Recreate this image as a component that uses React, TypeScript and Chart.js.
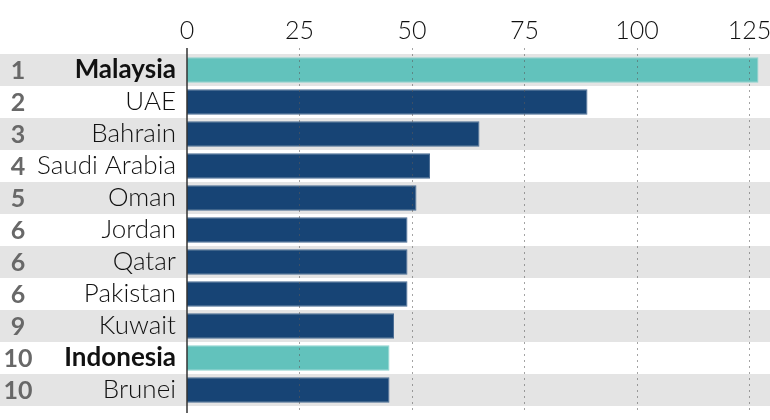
import React, { useEffect, useRef } from "react";
import { Chart, registerables } from "chart.js";

Chart.register(...registerables);

const ranks = ["1", "2", "3", "4", "5", "6", "6", "6", "9", "10", "10"];
const countries = ["Malaysia", "UAE", "Bahrain", "Saudi Arabia", "Oman", "Jordan", "Qatar", "Pakistan", "Kuwait", "Indonesia", "Brunei"];
const values = [127, 89, 65, 54, 51, 49, 49, 49, 46, 45, 45];
const highlighted = [true, false, false, false, false, false, false, false, false, true, false];
const xTicks = [0, 25, 50, 75, 100, 125];

const TEAL = "#62c2bc";
const NAVY = "#174475";
const FONT = "Lato, 'Open Sans', sans-serif";

const decorPlugin = {
  id: "decor",
  beforeDraw(chart: any) {
    const { ctx, scales } = chart;
    const y = scales.y;
    const w = chart.width;
    ctx.save();
    ctx.fillStyle = "#e4e4e4";
    countries.forEach((_, i) => {
      if (i % 2 === 0) {
        const c = y.getPixelForValue(i);
        ctx.fillRect(0, c - 16, w, 32);
      }
    });
    ctx.restore();
  },
  afterDatasetsDraw(chart: any) {
    const { ctx, chartArea, scales } = chart;
    const x = scales.x;
    const y = scales.y;
    ctx.save();
    ctx.strokeStyle = "rgba(90,90,90,0.55)";
    ctx.lineWidth = 1;
    ctx.setLineDash([2, 4]);
    xTicks.forEach((v) => {
      if (v === 0) return;
      const px = Math.round(x.getPixelForValue(v)) + 0.5;
      ctx.beginPath();
      ctx.moveTo(px, chartArea.top - 6);
      ctx.lineTo(px, chartArea.bottom + 6);
      ctx.stroke();
    });
    ctx.setLineDash([]);
    ctx.strokeStyle = "#333";
    ctx.lineWidth = 1.5;
    const zx = x.getPixelForValue(0);
    ctx.beginPath();
    ctx.moveTo(zx, chartArea.top - 6);
    ctx.lineTo(zx, chartArea.bottom + 7);
    ctx.stroke();
    // rank numbers
    ctx.fillStyle = "#686868";
    ctx.font = `bold 25px ${FONT}`;
    ctx.textAlign = "center";
    ctx.textBaseline = "middle";
    ranks.forEach((r, i) => {
      ctx.fillText(r, 18, y.getPixelForValue(i) + 1);
    });
    ctx.restore();
  },
};

export default function App() {
  const ref = useRef<HTMLCanvasElement>(null);
  useEffect(() => {
    if (!ref.current) return;
    const chart = new Chart(ref.current, {
      type: "bar",
      data: {
        labels: countries,
        datasets: [
          {
            data: values,
            backgroundColor: highlighted.map((h) => (h ? TEAL : NAVY)),
            borderColor: highlighted.map((h) => (h ? "#8fd3ce" : "#4a6c93")),
            borderWidth: 1,
            barPercentage: 0.8,
            categoryPercentage: 1,
          },
        ],
      },
      options: {
        indexAxis: "y",
        animation: false,
        responsive: false,
        maintainAspectRatio: false,
        layout: { padding: { left: 0, right: 0, top: 0, bottom: 14 } },
        plugins: { legend: { display: false }, tooltip: { enabled: false } },
        scales: {
          x: {
            position: "top",
            min: 0,
            max: 129.56,
            grid: { display: false, drawTicks: false },
            border: { display: false },
            afterBuildTicks: (scale: any) => {
              scale.ticks = xTicks.map((v) => ({ value: v }));
            },
            afterFit: (scale: any) => {
              scale.height = 54;
              scale.paddingLeft = 0;
              scale.paddingRight = 0;
            },
            ticks: {
              color: "#111",
              font: { family: FONT, size: 25, weight: "300" },
              padding: 8,
              maxRotation: 0,
              autoSkip: false,
            },
          },
          y: {
            grid: { display: false, drawTicks: false },
            border: { display: false },
            afterFit: (scale: any) => {
              scale.width = 187;
              scale.paddingTop = 0;
              scale.paddingBottom = 0;
            },
            ticks: {
              color: "#111",
              padding: 11,
              autoSkip: false,
              font: (ctx: any) => ({
                family: FONT,
                size: 26,
                weight: highlighted[ctx.index] ? "bold" : "300",
              }),
            },
          },
        },
      },
      plugins: [decorPlugin],
    } as any);
    return () => chart.destroy();
  }, []);
  return (
    <div style={{ position: "fixed", left: 0, top: 0, width: 770, height: 420, background: "#fff" }}>
      <canvas ref={ref} width={770} height={420} style={{ width: 770, height: 420 }} />
    </div>
  );
}
